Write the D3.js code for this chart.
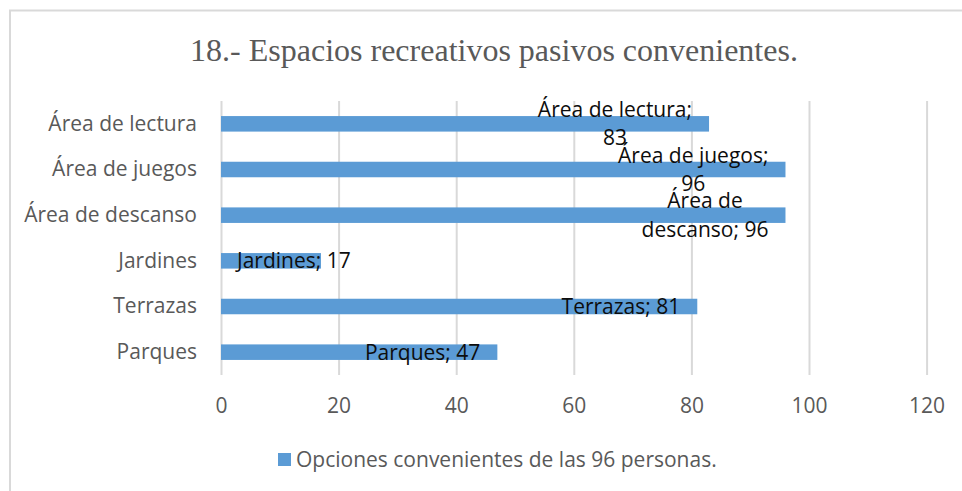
<!DOCTYPE html>
<html lang="es">
<head>
<meta charset="utf-8">
<script src="https://cdn.jsdelivr.net/npm/d3@7"></script>
<style>
  html, body { margin: 0; padding: 0; background: #ffffff; }
  svg { display: block; }
</style>
</head>
<body>
<svg id="chart" width="962" height="491"></svg>
<script>
// Categories listed top to bottom as they appear on the vertical axis
const categories = ["Área de lectura", "Área de juegos", "Área de descanso", "Jardines", "Terrazas", "Parques"];
const values = [83, 96, 96, 17, 81, 47];
// Words kept on the first line of each wrapped data label (0 = single line)
const labelBreaks = [3, 3, 2, 0, 0, 0];
const xTicks = [0, 20, 40, 60, 80, 100, 120];
const chartTitle = "18.- Espacios recreativos pasivos convenientes.";
const seriesName = "Opciones convenientes de las 96 personas.";

const W = 962, H = 491;
const plot = { left: 221, right: 926.6, top: 101, bottom: 375 };
const sansFont = "'Open Sans', 'Noto Sans', sans-serif";
const barColor = "#5b9bd5";
const greyText = "#595959";
const fontSize = 21;

const svg = d3.select("#chart");

// Outer chart frame
svg.append("rect")
  .attr("x", 10).attr("y", 10.5)
  .attr("width", W + 20).attr("height", H + 20)
  .attr("fill", "#ffffff")
  .attr("stroke", "#d9d9d9").attr("stroke-width", 2);

const x = d3.scaleLinear().domain([0, 120]).range([plot.left, plot.right]);
const y = d3.scaleBand().domain(categories)
  .range([plot.top, plot.bottom])
  .paddingInner(0.66).paddingOuter(0.33);

// Vertical gridlines + value axis labels
const xAxis = svg.append("g")
  .attr("transform", `translate(0,${plot.bottom})`)
  .call(d3.axisBottom(x).tickValues(xTicks)
    .tickSize(-(plot.bottom - plot.top)).tickPadding(23));
xAxis.select(".domain").remove();
xAxis.selectAll(".tick line").attr("stroke", "#d9d9d9").attr("stroke-width", 2);
xAxis.selectAll(".tick text")
  .attr("fill", greyText).attr("font-family", sansFont).attr("font-size", fontSize);

// Category axis
const yAxis = svg.append("g")
  .attr("transform", `translate(${plot.left},0)`)
  .call(d3.axisLeft(y).tickSize(0).tickPadding(24));
yAxis.select(".domain").remove();
yAxis.selectAll(".tick text")
  .attr("fill", greyText).attr("font-family", sansFont).attr("font-size", fontSize);

// Bars
svg.append("g").selectAll("rect")
  .data(categories)
  .join("rect")
  .attr("x", x(0))
  .attr("y", d => y(d))
  .attr("width", (d, i) => x(values[i]) - x(0))
  .attr("height", y.bandwidth())
  .attr("fill", barColor);

// Data labels "Categoría; valor", inside the bar end, wrapped where needed
const lineH = 28.5;
const labels = svg.append("g")
  .attr("font-family", sansFont).attr("font-size", fontSize).attr("fill", "#0d0d0d");
categories.forEach((c, i) => {
  const words = `${c}; ${values[i]}`.split(" ");
  const lines = labelBreaks[i] > 0
    ? [words.slice(0, labelBreaks[i]).join(" "), words.slice(labelBreaks[i]).join(" ")]
    : [words.join(" ")];
  const t = labels.append("text").attr("text-anchor", "middle");
  const cy = y(c) + y.bandwidth() / 2;
  const y0 = cy - (lines.length - 1) * lineH / 2;
  lines.forEach((ln, k) => {
    t.append("tspan").attr("x", 0).attr("y", y0 + k * lineH).attr("dy", "0.35em").text(ln);
  });
  // widest line decides the label box; keep it inside the bar end
  const w = t.node().getBBox().width;
  let left = x(values[i]) - 17 - w;
  if (left < x(0) + 15) left = x(0) + 15;
  t.selectAll("tspan").attr("x", left + w / 2);
});

// Title
svg.append("text")
  .attr("x", 494).attr("y", 61)
  .attr("text-anchor", "middle")
  .attr("font-family", "'Liberation Serif', 'Times New Roman', serif")
  .attr("font-size", 32)
  .attr("fill", greyText)
  .text(chartTitle);

// Legend
const legend = svg.append("g").attr("transform", "translate(278,453)");
legend.append("rect").attr("width", 13).attr("height", 13).attr("fill", barColor);
legend.append("text")
  .attr("x", 18).attr("y", 6.5).attr("dy", "0.35em")
  .attr("font-family", sansFont).attr("font-size", fontSize).attr("fill", greyText)
  .text(seriesName);
</script>
</body>
</html>
